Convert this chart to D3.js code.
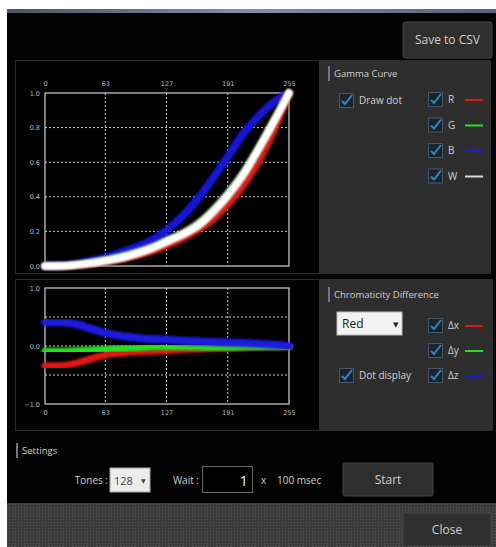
<!DOCTYPE html>
<html>
<head>
<meta charset="utf-8">
<script src="https://cdn.jsdelivr.net/npm/d3@7"></script>
<style>
  body { margin: 0; background: #fff; }
  svg { display: block; font-family: "Open Sans", "DejaVu Sans", sans-serif; }
</style>
</head>
<body>
<div id="app"></div>
<script>
"use strict"

// tone positions (0..255) used for every series
const tones = [0, 16, 32, 48, 64, 80, 96, 112, 128, 144, 160, 176, 192, 208, 224, 240, 255];
const toneTicks = [0, 63, 127, 191, 255];

// gamma curve values (0..1)
const gammaR = [0, 0, 0.004, 0.012, 0.025, 0.04, 0.06, 0.085, 0.12, 0.16, 0.21, 0.27, 0.36, 0.47, 0.61, 0.79, 1.0];
const gammaG = [0, 0, 0.008, 0.02, 0.035, 0.055, 0.08, 0.11, 0.15, 0.19, 0.245, 0.325, 0.425, 0.545, 0.69, 0.85, 1.0];
const gammaB = [0, 0.002, 0.012, 0.03, 0.05, 0.08, 0.11, 0.15, 0.21, 0.29, 0.39, 0.51, 0.64, 0.77, 0.87, 0.95, 1.0];
const gammaW = [0, 0, 0.005, 0.015, 0.03, 0.045, 0.07, 0.1, 0.14, 0.18, 0.23, 0.31, 0.41, 0.53, 0.68, 0.84, 1.0];
const gammaTicks = [0, 0.2, 0.4, 0.6, 0.8, 1.0];

// chromaticity difference values (-1..1)
const diffX = [-0.34, -0.34, -0.3, -0.22, -0.15, -0.12, -0.1, -0.09, -0.08, -0.06, -0.05, -0.04, -0.03, -0.02, -0.015, -0.01, 0];
const diffY = [-0.09, -0.09, -0.08, -0.07, -0.055, -0.04, -0.03, -0.015, -0.01, -0.01, -0.015, -0.02, -0.02, -0.015, -0.01, -0.005, 0];
const diffZ = [0.41, 0.41, 0.38, 0.3, 0.22, 0.17, 0.14, 0.12, 0.11, 0.09, 0.08, 0.07, 0.06, 0.05, 0.04, 0.02, 0];
const diffTicks = [-1, 0, 1];
const diffGrid = [-0.5, 0, 0.5];

const gammaLegend = ["R", "G", "B", "W"];
const diffLegend = ["\u0394x", "\u0394y", "\u0394z"];

const W = 496, H = 547;
const txt = "#cfcfcf";

const svg = d3.select("#app").append("svg").attr("width", W).attr("height", H);
const defs = svg.append("defs");
defs.append("filter").attr("id", "glow").attr("x", "-10%").attr("y", "-10%").attr("width", "120%").attr("height", "120%")
  .append("feGaussianBlur").attr("stdDeviation", 0.9);

// window frame
svg.append("rect").attr("x", 7).attr("y", 10).attr("width", W - 7).attr("height", H - 10).attr("fill", "#030303");
const topGrad = defs.append("linearGradient").attr("id", "topbar");
topGrad.append("stop").attr("offset", "0%").attr("stop-color", "#4a5566");
topGrad.append("stop").attr("offset", "50%").attr("stop-color", "#7f90a6");
topGrad.append("stop").attr("offset", "100%").attr("stop-color", "#55627a");
svg.append("rect").attr("x", 7).attr("y", 9).attr("width", W - 7).attr("height", 4).attr("fill", "url(#topbar)");

// dotted footer
const pat = defs.append("pattern").attr("id", "dots")
  .attr("width", 3).attr("height", 3).attr("patternUnits", "userSpaceOnUse");
pat.append("rect").attr("width", 3).attr("height", 3).attr("fill", "#3c3c3c");
pat.append("rect").attr("width", 1).attr("height", 1).attr("fill", "#555");
svg.append("rect").attr("x", 7).attr("y", 503).attr("width", W - 7).attr("height", 44).attr("fill", "url(#dots)");

function button(x, y, w, h, label, size) {
  svg.append("rect").attr("x", x).attr("y", y).attr("width", w).attr("height", h)
    .attr("rx", 2).attr("fill", "#2f2f2f").attr("stroke", "#444");
  svg.append("text").attr("x", x + w / 2).attr("y", y + h / 2 + 4).attr("text-anchor", "middle")
    .attr("fill", txt).attr("font-size", size).text(label);
}
button(403, 22, 89, 36, "Save to CSV", 12);
button(343, 463, 90, 33, "Start", 12);
button(403, 513, 88, 33, "Close", 12);

// panels
svg.append("rect").attr("x", 15.5).attr("y", 60.5).attr("width", 304).attr("height", 213).attr("fill", "#000").attr("stroke", "#2a2a2a");
svg.append("rect").attr("x", 319).attr("y", 60).attr("width", 172).attr("height", 214).attr("fill", "#2e2e2e");
svg.append("rect").attr("x", 15.5).attr("y", 279.5).attr("width", 304).attr("height", 151).attr("fill", "#000").attr("stroke", "#2a2a2a");
svg.append("rect").attr("x", 319).attr("y", 279).attr("width", 174).attr("height", 152).attr("fill", "#2e2e2e");

function drawChart(cfg) {
  const x = d3.scaleLinear().domain([0, 255]).range([cfg.left, cfg.right]);
  const y = d3.scaleLinear().domain(cfg.domain).range([cfg.bottom, cfg.top]);
  const g = svg.append("g");

  // dashed grid
  g.selectAll(".vg").data(toneTicks.slice(1, -1)).enter().append("line")
    .attr("x1", d => x(d)).attr("x2", d => x(d)).attr("y1", cfg.top).attr("y2", cfg.bottom)
    .attr("stroke", "#ccc").attr("stroke-dasharray", "2,2");
  g.selectAll(".hg").data(cfg.grid).enter().append("line")
    .attr("x1", cfg.left).attr("x2", cfg.right).attr("y1", d => y(d)).attr("y2", d => y(d))
    .attr("stroke", "#ccc").attr("stroke-dasharray", "2,2");
  g.append("rect").attr("x", cfg.left).attr("y", cfg.top)
    .attr("width", cfg.right - cfg.left).attr("height", cfg.bottom - cfg.top)
    .attr("fill", "none").attr("stroke", "#d0d0d0").attr("stroke-width", 1.2);

  // tick labels
  const xAxis = cfg.xTop ? d3.axisTop(x) : d3.axisBottom(x);
  const xa = g.append("g").attr("transform", `translate(0,${cfg.xTop ? cfg.top - 5 : cfg.bottom + 4})`)
    .call(xAxis.tickValues(toneTicks).tickSize(0).tickPadding(2));
  const ya = g.append("g").attr("transform", `translate(${cfg.left - 3},0)`)
    .call(d3.axisLeft(y).tickValues(cfg.ticks).tickSize(0).tickPadding(2).tickFormat(d3.format(".1f")));
  [xa, ya].forEach(a => {
    a.select(".domain").remove();
    a.selectAll("text").attr("fill", "#bbb").attr("font-size", 6.5).attr("font-family", "DejaVu Sans");
  });

  const line = d3.line().x((d, i) => x(tones[i])).y(d => y(d)).curve(d3.curveMonotoneX);
  cfg.series.forEach(s => {
    g.append("path").datum(s.values).attr("d", line).attr("fill", "none")
      .attr("stroke", s.color).attr("stroke-width", s.width || 7).attr("stroke-linecap", "round")
      .attr("filter", "url(#glow)");
  });
}

drawChart({
  left: 45, right: 289, top: 93, bottom: 266, domain: [0, 1], xTop: true,
  ticks: gammaTicks, grid: gammaTicks.slice(1, -1),
  series: [
    { values: gammaB, color: "#1414d8", width: 8 },
    { values: gammaR, color: "#d81a10" },
    { values: gammaG, color: "#c8f0b8" },
    { values: gammaW, color: "#ffffff" }
  ]
});

drawChart({
  left: 45, right: 289, top: 288, bottom: 404, domain: [-1, 1], xTop: false,
  ticks: diffTicks, grid: diffGrid,
  series: [
    { values: diffX, color: "#e01414" },
    { values: diffY, color: "#22e022" },
    { values: diffZ, color: "#1a1ae0", width: 8 }
  ]
});

// control widgets
function sectionLabel(x, y, label) {
  svg.append("rect").attr("x", x).attr("y", y - 10).attr("width", 2).attr("height", 15).attr("fill", "#777");
  svg.append("text").attr("x", x + 6).attr("y", y + 1).attr("fill", txt).attr("font-size", 9.5).text(label);
}
function checkbox(x, y, label) {
  svg.append("rect").attr("x", x + 0.5).attr("y", y + 0.5).attr("width", 14).attr("height", 14)
    .attr("fill", "#1a2430").attr("stroke", "#4a5866");
  svg.append("path").attr("d", `M${x + 3},${y + 8} L${x + 6},${y + 11} L${x + 13},${y + 2}`)
    .attr("fill", "none").attr("stroke", "#3488b8").attr("stroke-width", 2);
  svg.append("text").attr("x", x + 20).attr("y", y + 11).attr("fill", txt).attr("font-size", 10).text(label);
}

sectionLabel(328, 76, "Gamma Curve");
checkbox(339, 93, "Draw dot");
const gammaColors = ["#d81a10", "#22e022", "#1a1ae0", "#dddddd"];
gammaLegend.forEach((d, i) => {
  const yy = 92 + i * 25.5;
  checkbox(428, yy, d);
  svg.append("line").attr("x1", 465).attr("x2", 483).attr("y1", yy + 8).attr("y2", yy + 8)
    .attr("stroke", gammaColors[i]).attr("stroke-width", 2);
});

sectionLabel(328, 297, "Chromaticity Difference");
svg.append("rect").attr("x", 337).attr("y", 312).attr("width", 65).attr("height", 23).attr("fill", "#f2f2f2").attr("stroke", "#bbb");
svg.append("text").attr("x", 342).attr("y", 328).attr("fill", "#222").attr("font-size", 12).text("Red");
svg.append("text").attr("x", 393).attr("y", 327).attr("fill", "#222").attr("font-size", 7).text("\u25BC");
checkbox(339, 368, "Dot display");
const diffColors = ["#d81a10", "#22e022", "#1a1ae0"];
diffLegend.forEach((d, i) => {
  const yy = 318 + i * 25;
  checkbox(428, yy, d);
  svg.append("line").attr("x1", 465).attr("x2", 483).attr("y1", yy + 8).attr("y2", yy + 8)
    .attr("stroke", diffColors[i]).attr("stroke-width", 2);
});

// settings row
sectionLabel(16, 453, "Settings");
svg.append("text").attr("x", 108).attr("y", 484).attr("text-anchor", "end").attr("fill", txt).attr("font-size", 10).text("Tones :");
svg.append("rect").attr("x", 110).attr("y", 468).attr("width", 40).attr("height", 24).attr("fill", "#ececec").attr("stroke", "#aaa");
svg.append("text").attr("x", 114).attr("y", 485).attr("fill", "#444").attr("font-size", 11).text("128");
svg.append("text").attr("x", 141).attr("y", 483).attr("fill", "#444").attr("font-size", 6).text("\u25BC");
svg.append("text").attr("x", 199).attr("y", 484).attr("text-anchor", "end").attr("fill", txt).attr("font-size", 10).text("Wait :");
svg.append("rect").attr("x", 202.5).attr("y", 466.5).attr("width", 50).attr("height", 26).attr("fill", "#000").attr("stroke", "#666");
svg.append("text").attr("x", 248).attr("y", 486).attr("text-anchor", "end").attr("fill", "#eee").attr("font-size", 15).text("1");
svg.append("text").attr("x", 261).attr("y", 484).attr("fill", txt).attr("font-size", 10).text("x");
svg.append("text").attr("x", 277).attr("y", 484).attr("fill", txt).attr("font-size", 10).text("100 msec");
</script>
</body>
</html>
